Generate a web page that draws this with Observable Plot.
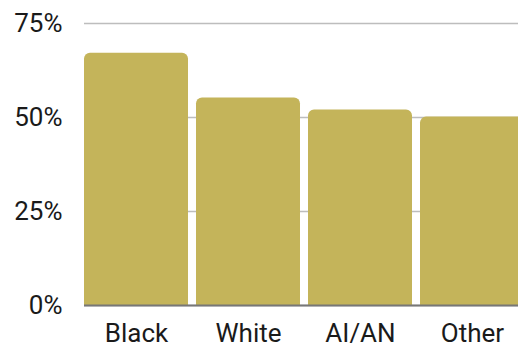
<!DOCTYPE html>
<html>
<head>
<meta charset="utf-8">
<script src="https://cdn.jsdelivr.net/npm/d3@7"></script>
<script src="https://cdn.jsdelivr.net/npm/@observablehq/plot@0.6"></script>
<style>
  html, body { margin: 0; padding: 0; background: #fff; }
  #chart svg { display: block; }
</style>
</head>
<body>
<div id="chart"></div>
<script>
const categories = ["Black", "White", "AI/AN", "Other"];
const values = [67.1, 55.2, 52.0, 50.1];
const yTicks = [0, 25, 50, 75];

const data = categories.map((c, i) => ({category: c, value: values[i]}));

const chart = Plot.plot({
  width: 518,
  height: 347,
  marginLeft: 84,
  marginRight: 0,
  marginTop: 23,
  marginBottom: 42,
  style: {fontFamily: "Roboto", fontSize: "26px", color: "#1a1a1a", background: "#fff"},
  x: {domain: categories, range: [84, 525], paddingInner: 0.067, paddingOuter: 0, align: 0},
  y: {domain: [0, 75]},
  marks: [
    Plot.gridY(yTicks, {stroke: "#bdbdbd", strokeOpacity: 1, strokeWidth: 1.5}),
    Plot.barY(data, {x: "category", y: "value", fill: "#c4b45a", ry1: 6, rx1y1: 6, rx2y1: 6}),
    Plot.ruleY([0], {stroke: "#777", strokeWidth: 2}),
    Plot.axisY(yTicks, {tickSize: 0, tickPadding: 22, tickFormat: d => d + "%", fontSize: 26, label: null}),
    Plot.axisX({tickSize: 0, tickPadding: 18, fontSize: 26, label: null})
  ]
});
document.getElementById("chart").appendChild(chart);
</script>
</body>
</html>
